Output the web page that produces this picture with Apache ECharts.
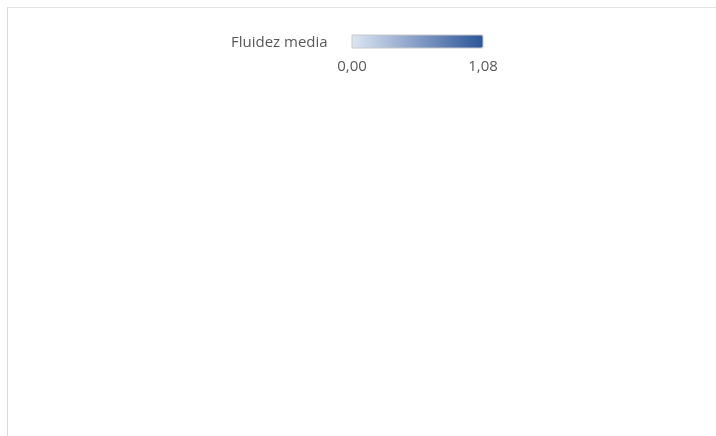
<!DOCTYPE html>
<html>
<head>
<meta charset="utf-8">
<script src="https://cdn.jsdelivr.net/npm/echarts@6/dist/echarts.min.js"></script>
<style>
html,body{margin:0;padding:0;background:#fff;width:716px;height:436px;overflow:hidden;}
#frame{position:absolute;left:7px;top:7px;right:0;bottom:0;border-left:1px solid #d9d9d9;border-top:1px solid #e3e3e3;}
#chart{position:absolute;left:0;top:0;width:716px;height:436px;}
</style>
</head>
<body>
<div id="frame"></div>
<div id="chart"></div>
<script>
// Data
const legendTitle = 'Fluidez media';
const scaleMin = 0;
const scaleMax = 1.08;
const regionNames = [];
const regionValues = [];

function fmt(v){ return v.toFixed(2).replace('.', ','); }

const chart = echarts.init(document.getElementById('chart'), null, {renderer:'canvas'});
const option = {
  backgroundColor: 'transparent',
  animation: false,
  textStyle: {fontFamily: 'Open Sans'},
  title: {
    text: legendTitle,
    left: 231, top: 35,
    padding: 0,
    textStyle: {fontSize: 15, fontWeight: 'normal', color: '#595959', fontFamily: 'Open Sans'}
  },
  visualMap: {
    type: 'continuous',
    orient: 'horizontal',
    min: scaleMin, max: scaleMax,
    left: 352, top: 35,
    padding: 0,
    itemWidth: 13, itemHeight: 131,
    calculable: false,
    showLabel: false,
    text: null,
    inRange: {color: ['#dde5f3', '#2c5598']},
    seriesIndex: 0
  },
  grid: {left: 352, top: 35, width: 131, height: 13, show: true, borderColor: '#c8c8c8', borderWidth: 1, backgroundColor: 'transparent', z: 10},
  xAxis: {
    type: 'value', min: scaleMin, max: scaleMax, interval: scaleMax,
    axisLine: {show: false}, axisTick: {show: false}, splitLine: {show: false},
    axisLabel: {margin: 11, fontSize: 15, color: '#595959', fontFamily: 'Open Sans', formatter: fmt}
  },
  yAxis: {type: 'value', show: false, min: 0, max: 1},
  series: [{
    type: 'scatter',
    data: regionValues.map((v, i) => ({name: regionNames[i], value: [v, 0.5]})),
    symbolSize: 0
  }]
};
chart.setOption(option);
</script>
</body>
</html>
